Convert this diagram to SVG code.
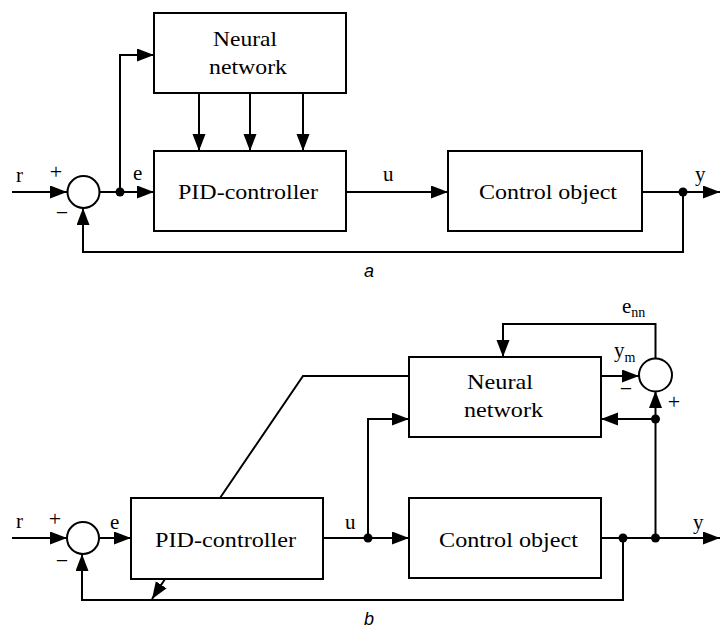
<svg xmlns="http://www.w3.org/2000/svg" width="721" height="630" viewBox="0 0 721 630">
<defs>
<marker id="arr" markerUnits="userSpaceOnUse" markerWidth="19" markerHeight="14" refX="17" refY="6.5" orient="auto">
<path d="M0,0 L17,6.5 L0,13 z" fill="#000"/>
</marker>
<style>
.box{fill:#fff;stroke:#000;stroke-width:2}
.ln{fill:none;stroke:#000;stroke-width:2}
.ar{fill:none;stroke:#000;stroke-width:2;marker-end:url(#arr)}
.sum{fill:#fff;stroke:#000;stroke-width:2}
.dot{fill:#000}
.t{font-family:"Liberation Serif","Times New Roman",serif;font-size:22px;fill:#000}
.s{font-family:"Liberation Serif","Times New Roman",serif;font-size:21px;fill:#000}
.sub{font-family:"Liberation Serif","Times New Roman",serif;font-size:14px;fill:#000}
.pm{font-family:"Liberation Serif","Times New Roman",serif;font-size:22px;fill:#000;text-anchor:middle}
.cap{font-family:"Liberation Sans",Arial,sans-serif;font-size:18px;font-style:italic;fill:#000}
</style>
</defs>
<rect width="721" height="630" fill="#fff"/>

<!-- Diagram a -->
<g id="connectors-a">
<line class="ar" x1="12" y1="192" x2="67" y2="192"/>
<line class="ln" x1="99" y1="192" x2="120" y2="192"/>
<line class="ar" x1="120" y1="192" x2="154" y2="192"/>
<path class="ar" d="M120,192 V55 H154"/>
<line class="ar" x1="199" y1="93" x2="199" y2="151"/>
<line class="ar" x1="250" y1="93" x2="250" y2="151"/>
<line class="ar" x1="303" y1="93" x2="303" y2="151"/>
<line class="ar" x1="346" y1="192" x2="448" y2="192"/>
<line class="ar" x1="642" y1="192" x2="720" y2="192"/>
<path class="ar" d="M683,192 V252 H83 V208"/>
<circle class="dot" cx="120" cy="192" r="4.5"/>
<circle class="dot" cx="683" cy="192" r="4.5"/>
</g>
<g id="sum-a">
<circle class="sum" cx="83.5" cy="192" r="16"/>
<text class="pm" x="56" y="179">+</text>
<text class="pm" x="62" y="220">−</text>
</g>
<g id="nn-a">
<rect class="box" x="154" y="13" width="192" height="80"/>
<text class="t" x="213" y="46" textLength="64" lengthAdjust="spacingAndGlyphs">Neural</text>
<text class="t" x="209" y="74" textLength="78" lengthAdjust="spacingAndGlyphs">network</text>
</g>
<g id="pid-a">
<rect class="box" x="154" y="151" width="192" height="80"/>
<text class="t" x="178" y="199" textLength="140" lengthAdjust="spacingAndGlyphs">PID-controller</text>
</g>
<g id="co-a">
<rect class="box" x="448" y="151" width="194" height="80"/>
<text class="t" x="479" y="199" textLength="138" lengthAdjust="spacingAndGlyphs">Control object</text>
</g>
<g id="labels-a">
<text class="s" x="16" y="182">r</text>
<text class="s" x="133" y="180">e</text>
<text class="s" x="383" y="181">u</text>
<text class="s" x="695" y="181">y</text>
<text class="cap" x="364" y="277">a</text>
</g>

<!-- Diagram b -->
<g id="connectors-b">
<line class="ar" x1="12" y1="538" x2="67" y2="538"/>
<line class="ar" x1="99" y1="538" x2="131" y2="538"/>
<line class="ln" x1="323" y1="538" x2="368" y2="538"/>
<line class="ar" x1="368" y1="538" x2="409" y2="538"/>
<path class="ar" d="M368,538 V419 H409"/>
<path class="ln" d="M220,498 L303,376 H409"/>
<line class="ar" x1="601" y1="538" x2="720" y2="538"/>
<path class="ar" d="M623,538 V600 H82 V554"/>
<line class="ar" x1="165" y1="579" x2="152" y2="599"/>
<line class="ar" x1="655.5" y1="538" x2="655.5" y2="391"/>
<line class="ar" x1="655.5" y1="419" x2="601" y2="419"/>
<line class="ar" x1="601" y1="376" x2="639" y2="376"/>
<path class="ar" d="M655.5,359 V324 H503 V357"/>
<circle class="dot" cx="368" cy="538" r="4.5"/>
<circle class="dot" cx="623" cy="538" r="4.5"/>
<circle class="dot" cx="655.5" cy="538" r="4.5"/>
<circle class="dot" cx="655.5" cy="419" r="4.5"/>
</g>
<g id="sum-b">
<circle class="sum" cx="83" cy="538" r="16"/>
<text class="pm" x="55" y="526">+</text>
<text class="pm" x="62" y="568">−</text>
</g>
<g id="sum-nn">
<circle class="sum" cx="655.5" cy="375" r="16.5"/>
<text class="pm" x="626" y="396">−</text>
<text class="pm" x="674" y="409">+</text>
</g>
<g id="pid-b">
<rect class="box" x="131" y="498" width="192" height="81"/>
<text class="t" x="155" y="547" textLength="141" lengthAdjust="spacingAndGlyphs">PID-controller</text>
</g>
<g id="co-b">
<rect class="box" x="409" y="498" width="192" height="80"/>
<text class="t" x="439" y="547" textLength="139" lengthAdjust="spacingAndGlyphs">Control object</text>
</g>
<g id="nn-b">
<rect class="box" x="409" y="357" width="192" height="80"/>
<text class="t" x="467" y="389" textLength="66" lengthAdjust="spacingAndGlyphs">Neural</text>
<text class="t" x="464" y="417" textLength="79" lengthAdjust="spacingAndGlyphs">network</text>
</g>
<g id="labels-b">
<text class="s" x="16" y="528">r</text>
<text class="s" x="110" y="529">e</text>
<text class="s" x="345" y="529">u</text>
<text class="s" x="693" y="529">y</text>
<text class="s" x="614" y="357">y<tspan class="sub" dy="5">m</tspan></text>
<text class="s" x="622" y="313">e<tspan class="sub" dy="4">nn</tspan></text>
<text class="cap" x="364" y="625">b</text>
</g>
</svg>
